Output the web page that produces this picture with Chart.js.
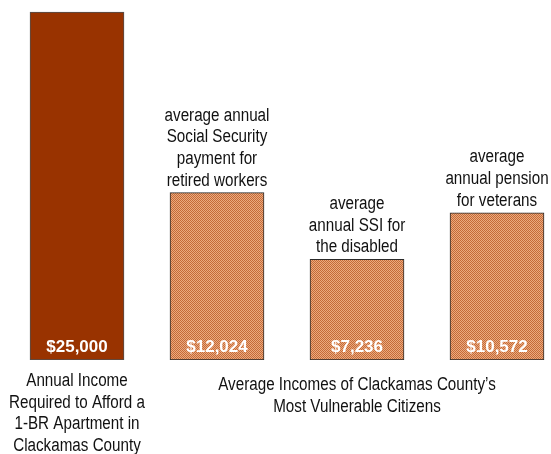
<!DOCTYPE html>
<html>
<head>
<meta charset="utf-8">
<script src="https://cdn.jsdelivr.net/npm/chart.js@4/dist/chart.umd.min.js"></script>
<style>
html,body{margin:0;padding:0;background:#fff;}
#wrap{width:551px;height:454px;position:relative;}
</style>
</head>
<body>
<div id="wrap"><canvas id="c" width="551" height="454"></canvas></div>
<script>
// ---- data ----
const categories = ["Required", "Social Security", "SSI", "Veterans pension"];
const positions = [0, 1, 2, 3];
const values = [25000, 12024, 7236, 10572];
const topLabels = [
  [],
  ["average annual", "Social Security", "payment for", "retired workers"],
  ["average", "annual SSI for", "the disabled"],
  ["average", "annual pension", "for veterans"]
];
const leftAxisLabel = ["Annual Income", "Required to Afford a", "1-BR Apartment in", "Clackamas County"];
const groupAxisLabel = ["Average Incomes of Clackamas County\u2019s", "Most Vulnerable Citizens"];

// ---- pattern ----
function makePattern() {
  const p = document.createElement('canvas');
  p.width = 2; p.height = 2;
  const g = p.getContext('2d');
  g.fillStyle = '#EBAA7E'; g.fillRect(0, 0, 2, 2);
  g.fillStyle = '#C46A38'; g.fillRect(0, 0, 1, 1); g.fillRect(1, 1, 1, 1);
  return g.createPattern(p, 'repeat');
}
const ctx = document.getElementById('c').getContext('2d');
const pat = makePattern();

const SQUEEZE = 0.845;
function narrowText(c, t, x, y) {
  c.save();
  c.translate(x, y);
  c.scale(SQUEEZE, 1);
  c.fillText(t, 0, 0);
  c.restore();
}

const textPlugin = {
  id: 'texts',
  afterDatasetsDraw(chart) {
    const c = chart.ctx;
    const meta = chart.getDatasetMeta(0);
    const base = chart.scales.y.getPixelForValue(0);
    c.save();
    c.textAlign = 'center';
    // value labels
    c.fillStyle = '#ffffff';
    c.font = 'bold 17px "Liberation Sans", Arial, sans-serif';
    c.textBaseline = 'middle';
    meta.data.forEach((bar, i) => {
      c.fillText('$' + values[i].toLocaleString('en-US'), bar.x, base - 13);
    });
    // labels above bars
    c.fillStyle = '#111111';
    c.font = '18px "Liberation Sans", Arial, sans-serif';
    c.textBaseline = 'alphabetic';
    const lh = 21.7;
    meta.data.forEach((bar, i) => {
      const lines = topLabels[i];
      const n = lines.length;
      lines.forEach((t, k) => {
        narrowText(c, t, bar.x, bar.y - 7 - (n - 1 - k) * lh);
      });
    });
    // axis labels
    c.textBaseline = 'middle';
    const b0 = meta.data[0];
    leftAxisLabel.forEach((t, k) => narrowText(c, t, b0.x, base + 21 + k * lh));
    const b2 = meta.data[2];
    groupAxisLabel.forEach((t, k) => narrowText(c, t, b2.x, base + 25 + k * lh));
    c.restore();
  }
};

new Chart(ctx, {
  type: 'bar',
  data: {
    datasets: [{
      data: positions.map((x, i) => ({ x: x, y: values[i] })),
      backgroundColor: ['#993300', pat, pat, pat],
      borderColor: ['#505050', '#2a2a2a', '#2a2a2a', '#2a2a2a'],
      borderWidth: 1,
      borderSkipped: false,
      barThickness: 94
    }]
  },
  options: {
    responsive: false,
    animation: false,
    events: [],
    layout: { padding: { top: 0, left: 0, right: 0, bottom: 94 } },
    plugins: { legend: { display: false }, tooltip: { enabled: false } },
    scales: {
      x: { type: 'linear', display: false, offset: false, min: -77 / 140, max: 474 / 140 },
      y: { display: false, min: 0, max: 25000 * 360 / 348 }
    }
  },
  plugins: [textPlugin]
});
</script>
</body>
</html>
